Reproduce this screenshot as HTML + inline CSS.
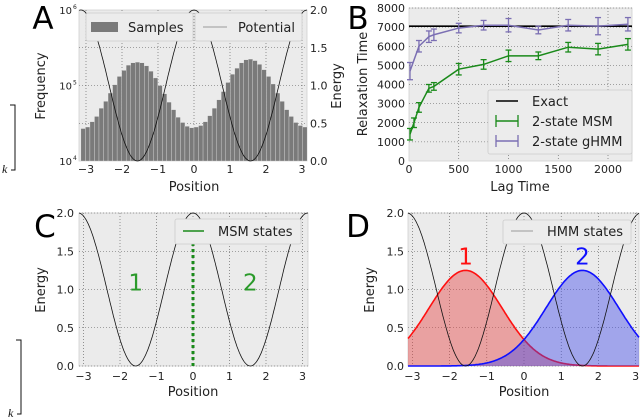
<!DOCTYPE html>
<html><head><meta charset="utf-8"><style>
html,body{margin:0;padding:0;background:#fff;}
svg{display:block;font-family:"DejaVu Sans","Liberation Sans",sans-serif;}
</style></head><body>
<svg id="fig" width="640" height="419" viewBox="0 0 640 419" xmlns="http://www.w3.org/2000/svg"></svg>
<script>
// ---- data ----
const histLog = [4.43,4.45,4.52,4.59,4.70,4.79,4.90,5.01,5.12,5.20,5.27,5.30,5.31,5.30,5.26,5.19,5.10,5.00,4.89,4.78,4.68,4.58,4.51,4.46,4.44,
                 4.45,4.47,4.52,4.60,4.70,4.81,4.92,5.04,5.15,5.23,5.30,5.34,5.35,5.33,5.28,5.21,5.12,5.02,4.90,4.79,4.68,4.59,4.51,4.47,4.45];
const histCounts = histLog.map(v => Math.pow(10, v));
const potParams = [1, 1, 2];
const msmLags = [10,50,100,200,250,500,750,1000,1300,1600,1900,2200];
const msmVals = [1400,2000,2800,3800,3900,4800,5050,5500,5500,5950,5850,6100];
const msmErr  = [300,250,250,200,200,300,250,300,200,250,300,300];
const hmmLags = [10,100,200,250,500,750,1000,1300,1600,1900,2200];
const hmmVals = [4700,6000,6500,6600,6950,7100,7100,6850,7100,7050,7150];
const hmmErr  = [450,300,300,300,250,250,350,200,300,450,350];
const exactVal = [7050];
const bXTicks = [0,500,1000,1500,2000];
const bYTicks = [0,1000,2000,3000,4000,5000,6000,7000,8000];
const gCenters = [-1.5708, 1.5708];
const gHeights = [1.25, 1.25];
const gSigma = [0.98, 0.98];
const posTicks = [-3,-2,-1,0,1,2,3];
const eTicks = [0,0.5,1,1.5,2];

const NS="http://www.w3.org/2000/svg";
const svg=document.getElementById('fig');
function mk(tag,attrs,parent){const e=document.createElementNS(NS,tag);for(const k in attrs)e.setAttribute(k,attrs[k]);(parent||svg).appendChild(e);return e;}
function txt(s,x,y,size,anchor,fill,parent){const t=mk('text',{x:x,y:y,'font-size':size,'text-anchor':anchor||'middle',fill:fill||'#222'},parent);t.textContent=s;return t;}
const pot = x => potParams[0] + potParams[1]*Math.cos(potParams[2]*x);

function panelBg(l,t,r,b,name){
  const g=mk('g',{});
  
  
  mk('rect',{x:l,y:t,width:r-l,height:b-t,fill:'#ebebeb',stroke:'#d0d0d0','stroke-width':0.8},g);
  return g;
}
function grid(g,xs,ys,l,t,r,b){
  xs.forEach(x=>mk('line',{x1:x,x2:x,y1:t,y2:b,stroke:'#555','stroke-width':0.6,'stroke-dasharray':'1,2'},g));
  ys.forEach(y=>mk('line',{x1:l,x2:r,y1:y,y2:y,stroke:'#555','stroke-width':0.6,'stroke-dasharray':'1,2'},g));
}
function potPath(g,sx,sy,x0,x1){
  let d='';for(let i=0;i<=200;i++){const x=x0+(x1-x0)*i/200;d+=(i?'L':'M')+sx(x).toFixed(1)+','+sy(pot(x)).toFixed(1);}
  const p=mk('path',{d:d,fill:'none',stroke:'#111','stroke-width':0.8},g);
  
  
}

// ---------- Panel A ----------
(function(){
  const l=79,r=307,t=10,b=161;
  const sx=x=>194+x*36, sy=v=>b-(Math.log10(v)-4)*75.5, se=e=>b-e*75.5;
  const g=panelBg(l,t,r,b,'panel-a');
  grid(g,posTicks.map(sx),[1e5,Math.pow(10,4.5),Math.pow(10,5.5)].map(sy).concat([se(0.5),se(1.5)]),l,t,r,b);
  const w=2*Math.PI/histCounts.length;
  histCounts.forEach((c,i)=>{
    const x0=sx(-Math.PI+i*w), x1=sx(-Math.PI+(i+1)*w);
    const rc=mk('rect',{x:x0,y:sy(c),width:x1-x0,height:b-sy(c),fill:'#7a7a7a',stroke:'#eee','stroke-width':0.3},g);
    
    
  });
  potPath(g,sx,se,-3.19,3.14);
  posTicks.forEach(v=>txt(v<0?'\u2212'+(-v):''+v,sx(v),173,11,'middle','#222',g));
  [[4,161],[5,85.5],[6,10]].forEach(([p,y])=>{txt('10',72,y+4,10,'end','#222',g);const s=mk('text',{x:73,y:y-1,'font-size':6,fill:'#222'},g);s.textContent=p;});
  ['0.0','0.5','1.0','1.5','2.0'].forEach((s,i)=>txt(s,310,se(eTicks[i])+4,11,'start','#222',g));
  txt('Position',194,191,13,'middle','#222',g);
  const fl=txt('Frequency',0,0,13,'middle','#222',g);fl.setAttribute('transform','translate(45,86) rotate(-90)');
  const el=txt('Energy',0,0,13,'middle','#222',g);el.setAttribute('transform','translate(341,86) rotate(-90)');
  const lg1=mk('g',{});
  mk('rect',{x:86,y:13,width:107,height:28,fill:'#ececec',stroke:'#ccc','stroke-width':0.8,rx:2},lg1);
  mk('rect',{x:91,y:22,width:27,height:10,fill:'#7a7a7a'},lg1);
  txt('Samples',128,32,13,'start','#222',lg1);
  const lg2=mk('g',{});
  mk('rect',{x:195,y:13,width:107,height:28,fill:'#ececec',stroke:'#ccc','stroke-width':0.8,rx:2},lg2);
  mk('line',{x1:203,x2:227,y1:27,y2:27,stroke:'#aaa','stroke-width':1.2},lg2);
  txt('Potential',238,32,13,'start','#222',lg2);
  txt('A',43,29,31,'middle','#000');
})();

// ---------- Panel B ----------
(function(){
  const l=409,r=632,t=8,b=161;
  const sx=x=>409+x*0.0995, sy=v=>b-v*0.019125;
  const g=panelBg(l,t,r,b,'panel-b');
  grid(g,bXTicks.slice(1).map(sx),bYTicks.slice(1).map(sy),l,t,r,b);
  const ex=mk('line',{x1:l,x2:r,y1:sy(exactVal[0]),y2:sy(exactVal[0]),stroke:'#000','stroke-width':1.6},g);
  
  function series(lags,vals,err,col,name){
    const sg=mk('g',{},g);
    mk('polyline',{points:lags.map((x,i)=>sx(x)+','+sy(vals[i])).join(' '),fill:'none',stroke:col,'stroke-width':1.5},sg);
    lags.forEach((x,i)=>{
      const X=sx(x),y1=sy(vals[i]+err[i]),y2=sy(vals[i]-err[i]);
      mk('line',{x1:X,x2:X,y1:y1,y2:y2,stroke:col,'stroke-width':1.3},sg);
      mk('line',{x1:X-3,x2:X+3,y1:y1,y2:y1,stroke:col,'stroke-width':1.3},sg);
      mk('line',{x1:X-3,x2:X+3,y1:y2,y2:y2,stroke:col,'stroke-width':1.3},sg);
    });
  }
  series(hmmLags,hmmVals,hmmErr,'#7b6fb3','ghmm-series');
  series(msmLags,msmVals,msmErr,'#1a8a1a','msm-series');
  bXTicks.forEach(v=>txt(''+v,sx(v),173,11,'middle','#222',g));
  bYTicks.forEach(v=>txt(''+v,405,sy(v)+4,11,'end','#222',g));
  txt('Lag Time',520,191,13,'middle','#222',g);
  const yl=txt('Relaxation Time',0,0,13,'middle','#222',g);yl.setAttribute('transform','translate(367,84) rotate(-90)');
  const lg=mk('g',{});
  mk('rect',{x:488,y:90,width:144,height:64,fill:'#ececec',stroke:'#ccc','stroke-width':0.8,rx:2},lg);
  mk('line',{x1:496,x2:518,y1:101,y2:101,stroke:'#000','stroke-width':1.6},lg);
  [['#1a8a1a',121],['#7b6fb3',141]].forEach(([c,y])=>{
    mk('line',{x1:496,x2:518,y1:y,y2:y,stroke:c,'stroke-width':1.5},lg);
    mk('line',{x1:496,x2:496,y1:y-6,y2:y+6,stroke:c,'stroke-width':1.3},lg);
    mk('line',{x1:518,x2:518,y1:y-6,y2:y+6,stroke:c,'stroke-width':1.3},lg);
  });
  txt('Exact',532,106,13,'start','#222',lg);
  txt('2-state MSM',532,126,13,'start','#222',lg);
  txt('2-state gHMM',532,146,13,'start','#222',lg);
  txt('B',358,29,31,'middle','#000');
})();

// ---------- Panel C ----------
(function(){
  const l=79,r=308,t=213,b=366;
  const sx=x=>193+x*36.5, sy=e=>b-e*76.5;
  const g=panelBg(l,t,r,b,'panel-c');
  grid(g,posTicks.map(sx),eTicks.map(sy),l,t,r,b);
  potPath(g,sx,sy,-3.12,3.15);
  const ms=mk('line',{x1:sx(0),x2:sx(0),y1:t+6,y2:b,stroke:'#1a8a1a','stroke-width':3,'stroke-dasharray':'3,3'},g);
  
  txt('1',sx(-1.57),sy(0.99),23,'middle','#2a9a2a',g);
  txt('2',sx(1.57),sy(0.99),23,'middle','#2a9a2a',g);
  posTicks.forEach(v=>txt(v<0?'\u2212'+(-v):''+v,sx(v),380,11,'middle','#222',g));
  ['0.0','0.5','1.0','1.5','2.0'].forEach((s,i)=>txt(s,74,sy(eTicks[i])+4,11,'end','#222',g));
  txt('Position',193,396,13,'middle','#222',g);
  const yl=txt('Energy',0,0,13,'middle','#222',g);yl.setAttribute('transform','translate(45,290) rotate(-90)');
  const lg=mk('g',{});
  mk('rect',{x:175,y:219,width:126,height:25,fill:'#ececec',stroke:'#ccc','stroke-width':0.8,rx:2},lg);
  mk('line',{x1:183,x2:204,y1:231,y2:231,stroke:'#1a8a1a','stroke-width':1.5},lg);
  txt('MSM states',218,236,13,'start','#222',lg);
  txt('C',45,237,31,'middle','#000');
})();

// ---------- Panel D ----------
(function(){
  const l=408,r=639,t=213,b=366;
  const sx=x=>524+x*37.2, sy=e=>b-e*76.5;
  const g=panelBg(l,t,r,b,'panel-d');
  grid(g,posTicks.map(sx),eTicks.map(sy),l,t,r,b);
  const x0=(l-524)/37.2, x1=(r-524)/37.2;
  const cols=[['rgba(230,60,60,0.42)','#ff1010'],['rgba(60,70,235,0.42)','#1010ff']];
  gCenters.forEach((c,k)=>{
    let d='';
    for(let i=0;i<=200;i++){const x=x0+(x1-x0)*i/200;const v=gHeights[k]*Math.exp(-(x-c)*(x-c)/(2*gSigma[k]*gSigma[k]));d+=(i?'L':'M')+sx(x).toFixed(1)+','+sy(v).toFixed(1);}
    const f=mk('path',{d:d+'L'+r+','+b+'L'+l+','+b+'Z',fill:cols[k][0],stroke:'none'},g);
    
    const p=mk('path',{d:d,fill:'none',stroke:cols[k][1],'stroke-width':1.6},g);
    
  });
  potPath(g,sx,sy,x0,x1);
  const lg=mk('g',{});
  mk('rect',{x:503,y:220,width:128,height:24,fill:'#ececec',stroke:'#ccc','stroke-width':0.8,rx:2},lg);
  mk('line',{x1:511,x2:533,y1:231,y2:231,stroke:'#aaa','stroke-width':1.2},lg);
  txt('HMM states',547,236,13,'start','#222',lg);
  txt('1',sx(gCenters[0]),sy(1.33),23,'middle','#ff1010',g);
  txt('2',sx(gCenters[1]),sy(1.33),23,'middle','#1010ff',g);
  posTicks.forEach(v=>txt(v<0?'\u2212'+(-v):''+v,sx(v),380,11,'middle','#222',g));
  ['0.0','0.5','1.0','1.5','2.0'].forEach((s,i)=>txt(s,404,sy(eTicks[i])+4,11,'end','#222',g));
  txt('Position',524,396,13,'middle','#222',g);
  const yl=txt('Energy',0,0,13,'middle','#222',g);yl.setAttribute('transform','translate(374,290) rotate(-90)');
  txt('D',358,237,31,'middle','#000');
})();

// stray brackets on the left
[[15,105,170,170],[21,340,414,414]].forEach(([x,y1,y2,ky])=>{
  const g=mk('g',{});
  mk('polyline',{points:(x-5)+','+y1+' '+x+','+y1+' '+x+','+y2+' '+(x-4)+','+y2,fill:'none',stroke:'#111','stroke-width':1},g);
  const k=mk('text',{x:x-13,y:ky+3,'font-size':12,'font-style':'italic','font-family':'"Liberation Serif",serif',fill:'#111'},g);k.textContent='k';
});
</script>
</body></html>
